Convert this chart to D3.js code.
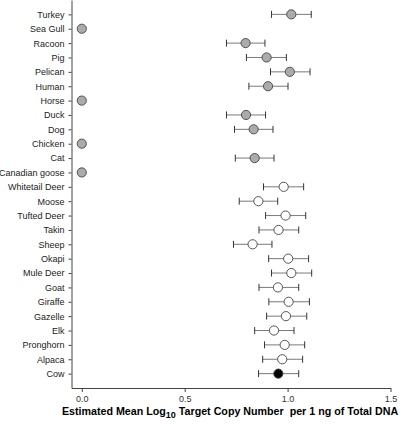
<!DOCTYPE html>
<html><head><meta charset="utf-8">
<script src="https://cdn.jsdelivr.net/npm/d3@7"></script>
<style>body{margin:0;background:#fff;}svg{display:block;}</style>
</head><body>
<script>
const categories = ["Turkey","Sea Gull","Racoon","Pig","Pelican","Human","Horse","Duck","Dog","Chicken","Cat","Canadian goose","Whitetail Deer","Moose","Tufted Deer","Takin","Sheep","Okapi","Mule Deer","Goat","Giraffe","Gazelle","Elk","Pronghorn","Alpaca","Cow"];
const means = [1.018,0,0.796,0.898,1.011,0.905,0,0.798,0.835,0,0.840,0,0.981,0.858,0.990,0.956,0.830,1.003,1.018,0.953,1.005,0.992,0.934,0.986,0.974,0.955];
const lowers = [0.922,null,0.703,0.800,0.917,0.812,null,0.703,0.742,null,0.746,null,0.883,0.765,0.893,0.861,0.737,0.908,0.922,0.861,0.909,0.898,0.840,0.888,0.879,0.859];
const uppers = [1.115,null,0.890,0.994,1.109,1.002,null,0.893,0.929,null,0.934,null,1.078,0.952,1.088,1.054,0.924,1.102,1.117,1.054,1.106,1.093,1.031,1.083,1.073,1.054];
const groups = ["gray","gray","gray","gray","gray","gray","gray","gray","gray","gray","gray","gray","white","white","white","white","white","white","white","white","white","white","white","white","white","black"];
const xTicks = [0, 0.5, 1.0, 1.5];
const xTickLabels = ["0.0","0.5","1.0","1.5"];

const W = 400, H = 424;
const svg = d3.select("body").append("svg").attr("width", W).attr("height", H);
const font = "'Liberation Sans', Arial, sans-serif";

const x = d3.scaleLinear().domain([-0.05, 1.5]).range([71.5, 390.5]);
const y = d3.scalePoint().domain(categories).range([0, 388]).padding(1);

const fills = {gray: "#ababab", white: "#ffffff", black: "#000000"};

// y axis
const yAx = svg.append("g").attr("transform", "translate(71.5,0)")
  .call(d3.axisLeft(y).tickSize(3).tickPadding(4).tickSizeOuter(0));
yAx.select(".domain").attr("stroke", "#444");
yAx.selectAll(".tick line").attr("stroke", "#444");
yAx.selectAll("text").attr("font-family", font).attr("font-size", 9).attr("fill", "#222");

// x axis
const xAx = svg.append("g").attr("transform", "translate(0,388)")
  .call(d3.axisBottom(x).tickValues(xTicks).tickFormat((d,i) => xTickLabels[i]).tickSize(4).tickPadding(4).tickSizeOuter(0));
xAx.select(".domain").attr("stroke", "#444");
xAx.selectAll(".tick line").attr("stroke", "#444");
xAx.selectAll("text").attr("font-family", font).attr("font-size", 9).attr("fill", "#333");

// error bars
const data = categories.map((c,i) => ({c, m: means[i], lo: lowers[i], hi: uppers[i], g: groups[i]}));
const eb = svg.append("g");
data.filter(d => d.lo != null).forEach(d => {
  const yy = y(d.c);
  eb.append("line").attr("x1", x(d.lo)).attr("x2", x(d.hi)).attr("y1", yy).attr("y2", yy)
    .attr("stroke", "#7a7a7a").attr("stroke-width", 1);
  [d.lo, d.hi].forEach(v => {
    eb.append("line").attr("x1", x(v)).attr("x2", x(v)).attr("y1", yy-3.5).attr("y2", yy+3.5)
      .attr("stroke", "#333").attr("stroke-width", 1);
  });
});

// points
svg.append("g").selectAll("circle").data(data).join("circle")
  .attr("cx", d => x(d.m)).attr("cy", d => y(d.c)).attr("r", 4.6)
  .attr("fill", d => fills[d.g]).attr("stroke", "#444").attr("stroke-width", 0.9);

// x title
const t = svg.append("text").attr("x", 230).attr("y", 415).attr("text-anchor", "middle")
  .attr("font-family", font).attr("font-size", 10.7).attr("font-weight", "bold").attr("fill", "#000");
t.append("tspan").text("Estimated Mean Log");
t.append("tspan").attr("font-size", 9).attr("dy", 3).text("10");
t.append("tspan").attr("dy", -3).text(" Target Copy Number\u00a0 per 1 ng of Total DNA");
</script>
</body></html>
